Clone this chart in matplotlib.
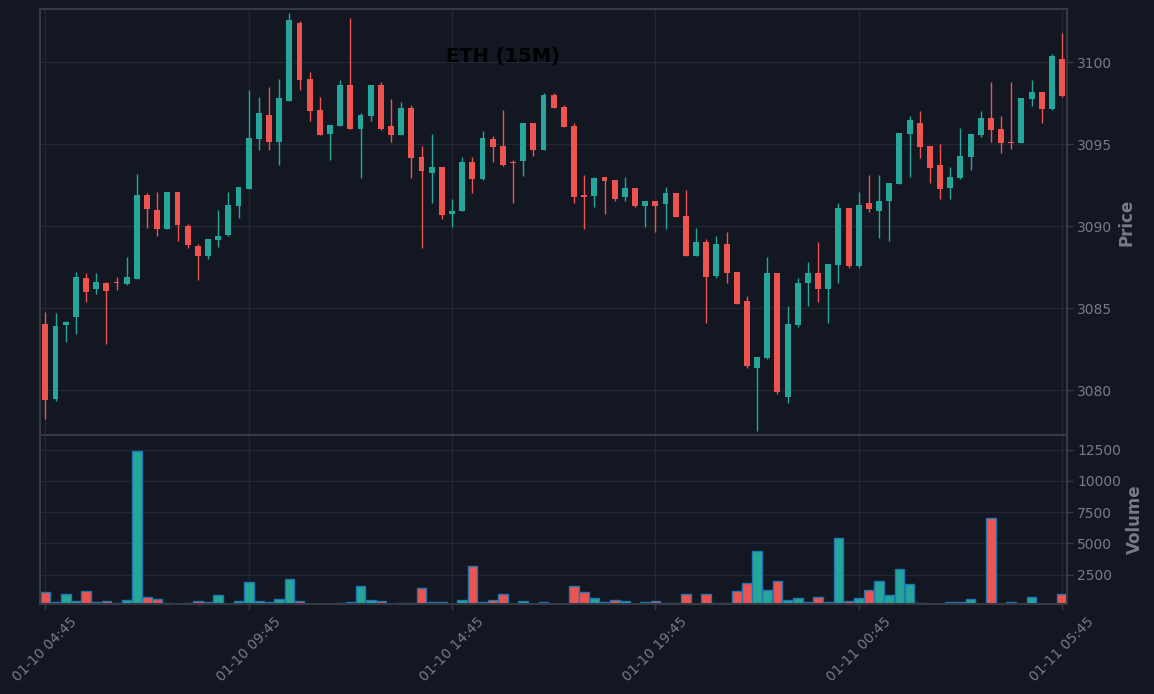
import numpy as np
import pandas as pd
import matplotlib
matplotlib.use("Agg")
import matplotlib.pyplot as plt

# 15-minute ETH candles
times = pd.date_range("2025-01-10 04:45", periods=101, freq="15min")

opens = [3084.02, 3079.47, 3083.98, 3084.47, 3086.83, 3086.18, 3086.52, 3086.59, 3086.48, 3086.79,
         3091.89, 3090.98, 3089.84, 3092.05, 3089.98, 3088.76, 3088.19, 3089.17, 3089.47, 3091.24,
         3092.28, 3095.33, 3096.77, 3095.14, 3097.64, 3102.38, 3098.96, 3097.07, 3095.63, 3096.12,
         3098.60, 3095.93, 3096.73, 3098.60, 3096.10, 3095.57, 3097.20, 3094.21, 3093.25, 3093.60,
         3090.75, 3090.93, 3093.90, 3092.89, 3095.30, 3094.88, 3093.90, 3093.98, 3096.28, 3094.65,
         3097.99, 3097.26, 3096.10, 3091.87, 3091.85, 3092.99, 3092.80, 3091.79, 3092.32, 3091.24,
         3091.52, 3091.36, 3092.01, 3090.61, 3088.19, 3089.02, 3086.95, 3088.90, 3087.20, 3085.43,
         3081.36, 3081.95, 3087.13, 3079.59, 3083.98, 3086.54, 3087.13, 3086.18, 3087.64, 3091.10,
         3087.58, 3091.40, 3090.93, 3091.52, 3092.58, 3095.63, 3096.28, 3094.88, 3093.72, 3092.34,
         3092.95, 3094.23, 3095.57, 3096.59, 3095.91, 3095.12, 3095.08, 3097.76, 3098.17, 3097.15,
         3100.18]
highs = [3084.78, 3084.67, 3084.19, 3087.17, 3087.11, 3087.11, 3086.59, 3086.87, 3088.09, 3093.17,
         3091.99, 3092.05, 3092.05, 3092.05, 3090.10, 3088.88, 3089.21, 3090.96, 3092.05, 3092.38,
         3098.31, 3097.85, 3098.46, 3098.94, 3102.97, 3102.48, 3099.39, 3097.85, 3096.14, 3098.90,
         3102.66, 3096.87, 3098.60, 3098.76, 3097.76, 3097.54, 3097.36, 3094.88, 3095.59, 3093.60,
         3091.67, 3094.19, 3094.19, 3095.77, 3095.47, 3097.05, 3094.00, 3096.28, 3096.28, 3098.09,
         3098.09, 3097.36, 3096.26, 3093.11, 3092.99, 3092.99, 3092.80, 3092.99, 3092.32, 3091.52,
         3091.52, 3092.36, 3092.01, 3092.17, 3089.86, 3089.19, 3089.37, 3089.61, 3087.20, 3085.73,
         3082.01, 3088.09, 3087.13, 3085.12, 3086.81, 3087.78, 3089.00, 3087.68, 3091.38, 3091.10,
         3092.05, 3093.11, 3093.11, 3092.62, 3095.67, 3096.71, 3097.01, 3094.88, 3095.00, 3093.60,
         3095.98, 3095.61, 3097.01, 3098.78, 3096.71, 3098.78, 3097.80, 3098.90, 3098.17, 3100.49,
         3101.75]
lows = [3078.21, 3079.31, 3082.91, 3083.39, 3085.39, 3085.87, 3082.78, 3086.08, 3086.38, 3086.79,
        3089.86, 3089.37, 3089.84, 3089.09, 3088.68, 3086.69, 3087.97, 3088.70, 3089.37, 3090.47,
        3092.28, 3094.65, 3094.65, 3093.70, 3097.64, 3098.31, 3096.42, 3095.57, 3094.04, 3096.12,
        3095.93, 3092.91, 3096.42, 3095.87, 3095.10, 3095.57, 3092.95, 3088.68, 3091.38, 3090.45,
        3089.96, 3090.93, 3091.99, 3092.78, 3093.88, 3093.68, 3091.38, 3093.07, 3094.25, 3094.65,
        3097.22, 3096.06, 3091.38, 3089.84, 3091.18, 3090.71, 3091.54, 3091.54, 3091.18, 3089.96,
        3089.61, 3089.84, 3090.57, 3088.19, 3088.19, 3084.11, 3086.85, 3086.54, 3085.26, 3081.36,
        3077.52, 3081.89, 3079.74, 3079.19, 3083.82, 3085.10, 3085.39, 3084.11, 3086.54, 3087.46,
        3087.46, 3090.87, 3089.29, 3089.07, 3092.58, 3092.97, 3094.17, 3092.64, 3091.67, 3091.67,
        3092.89, 3093.43, 3095.45, 3095.10, 3094.47, 3094.67, 3095.08, 3097.34, 3096.26, 3097.05,
        3097.87]
closes = [3079.41, 3083.90, 3084.15, 3086.89, 3086.00, 3086.59, 3086.06, 3086.55, 3086.89, 3091.89,
          3091.06, 3089.84, 3092.05, 3090.08, 3088.86, 3088.19, 3089.21, 3089.39, 3091.28, 3092.38,
          3095.37, 3096.89, 3095.14, 3097.80, 3102.56, 3098.92, 3097.03, 3095.57, 3096.14, 3098.60,
          3095.93, 3096.77, 3098.60, 3095.93, 3095.57, 3097.20, 3094.17, 3093.37, 3093.60, 3090.69,
          3090.91, 3093.90, 3092.89, 3095.37, 3094.84, 3093.74, 3093.86, 3096.28, 3094.65, 3097.99,
          3097.22, 3096.06, 3091.79, 3091.79, 3092.93, 3092.76, 3091.67, 3092.32, 3091.24, 3091.52,
          3091.24, 3092.01, 3090.57, 3088.19, 3089.02, 3086.87, 3088.90, 3087.15, 3085.26, 3081.48,
          3082.01, 3087.13, 3079.90, 3084.02, 3086.52, 3087.13, 3086.18, 3087.68, 3091.10, 3087.58,
          3091.28, 3091.06, 3091.52, 3092.62, 3095.67, 3096.46, 3094.84, 3093.56, 3092.28, 3092.99,
          3094.27, 3095.61, 3096.59, 3095.87, 3095.08, 3095.08, 3097.80, 3098.17, 3097.15, 3100.37,
          3097.93]
volumes = [1140, 340, 980, 420, 1220, 340, 420, 260, 500, 12420,
           740, 580, 260, 180, 260, 420, 340, 850, 180, 420,
           1940, 420, 340, 580, 2180, 420, 180, 180, 180, 260,
           340, 1620, 500, 420, 180, 260, 260, 1460, 340, 340,
           180, 500, 3170, 340, 500, 980, 180, 420, 180, 340,
           180, 180, 1620, 1140, 660, 340, 500, 420, 180, 340,
           420, 260, 260, 980, 180, 980, 260, 260, 1220, 1860,
           4420, 1300, 2020, 500, 660, 340, 740, 340, 5460, 420,
           660, 1300, 2020, 900, 2980, 1780, 260, 160, 160, 340,
           340, 580, 180, 7060, 160, 340, 180, 740, 160, 180,
           980]

bg = "#131722"
up_col = "#26a69a"
down_col = "#ef5350"
grid_col = "#232733"
spine_col = "#363a45"
text_col = "#787b86"

o = np.array(opens)
h = np.array(highs)
l = np.array(lows)
c = np.array(closes)
v = np.array(volumes)
x = np.arange(len(o))
up = c >= o
cols = np.where(up, up_col, down_col)

fig = plt.figure(figsize=(11.54, 6.94), dpi=100, facecolor=bg)
ax = fig.add_axes([0.0349, 0.3732, 0.8894, 0.6138], facecolor=bg)
axv = fig.add_axes([0.0349, 0.1297, 0.8894, 0.2435], facecolor=bg, sharex=ax)

# candles
ax.vlines(x, l, h, colors=cols, linewidth=1)
body = np.maximum(np.abs(c - o), 0.06)
ax.bar(x, body, bottom=np.minimum(o, c), width=0.58, color=cols, linewidth=0)

# volume
axv.bar(x, v, width=0.95, color=cols, edgecolor="#1f77b4", linewidth=1)

ax.set_ylim(3077.26, 3103.23)
axv.set_ylim(150, 13670)
ax.set_xlim(-0.5, 100.45)

tick_pos = x[::20]
axv.set_xticks(tick_pos)
axv.set_xticklabels([t.strftime("%m-%d %H:%M") for t in times[::20]], rotation=45)
ax.tick_params(axis="x", labelbottom=False, length=0)

ax.set_yticks([3080, 3085, 3090, 3095, 3100])
axv.set_yticks([2500, 5000, 7500, 10000, 12500])

for a, lab in ((ax, "Price"), (axv, "Volume")):
    a.yaxis.tick_right()
    a.yaxis.set_label_position("right")
    a.set_ylabel(lab, color=text_col, fontsize=12, fontweight="bold", labelpad=3.5)
    a.tick_params(colors=text_col, labelsize=10, length=4, width=1)
    a.tick_params(axis="both", color=spine_col)
    a.grid(True, color=grid_col, linewidth=0.9)
    a.set_axisbelow(True)
    for s in a.spines.values():
        s.set_color(spine_col)
        s.set_linewidth(1.5)

fig.text(0.436, 0.919, "ETH (15M)", color="black", fontsize=14, fontweight="bold",
         ha="center", va="center")

fig.savefig("out.png", facecolor=bg)
